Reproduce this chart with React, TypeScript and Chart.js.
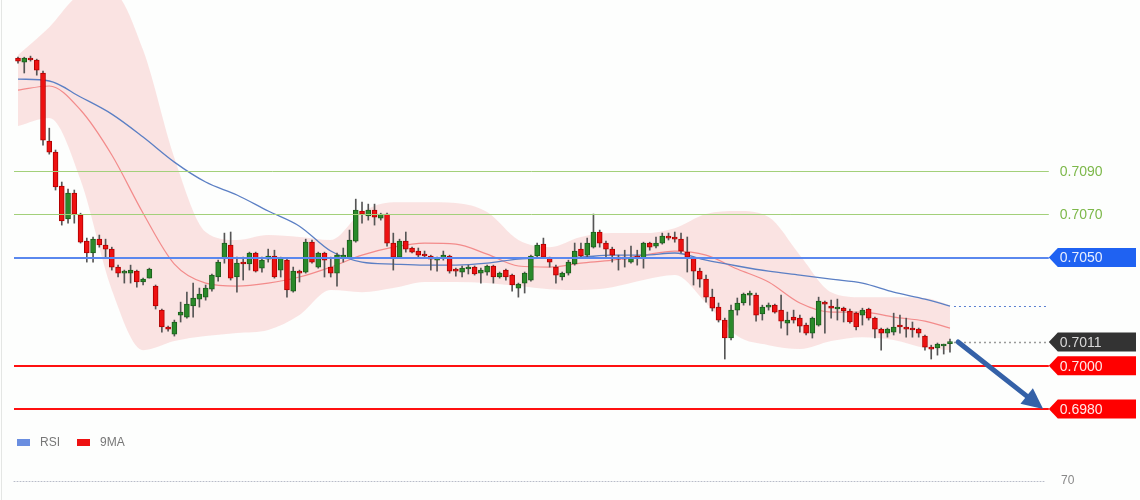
import React, { useEffect, useRef } from "react";
import { Chart, registerables } from "chart.js";

Chart.register(...registerables);

// ---- Candles (index = candle number) ----
const candleOpen = [
  0.71422, 0.71403, 0.71422, 0.71413, 0.71353, 0.71038, 0.70987, 0.7083, 0.70678, 0.70798,
  0.70696, 0.70576, 0.70521, 0.70585, 0.70558, 0.70539, 0.70456, 0.70428, 0.70428, 0.70437,
  0.70387, 0.70405, 0.70368, 0.70257, 0.70179, 0.70146, 0.70234, 0.70225, 0.70276, 0.70308,
  0.70317, 0.70354, 0.7041, 0.70497, 0.70558, 0.7041, 0.70479, 0.7047, 0.70521, 0.70451,
  0.70493, 0.70507, 0.70442, 0.70488, 0.70345, 0.70437, 0.70433, 0.70571, 0.70456, 0.70521,
  0.70456, 0.70428, 0.70497, 0.70497, 0.70576, 0.70715, 0.70692, 0.70719, 0.70682, 0.70701,
  0.70567, 0.70502, 0.70576, 0.70544, 0.7053, 0.70511, 0.70507, 0.70488, 0.70497, 0.70507,
  0.70442, 0.70433, 0.70447, 0.70456, 0.70428, 0.70433, 0.70461, 0.7041, 0.70442, 0.70419,
  0.70359, 0.70382, 0.70396, 0.70507, 0.70562, 0.70497, 0.70456, 0.7041, 0.70428, 0.7047,
  0.70539, 0.70511, 0.70548, 0.70618, 0.70567, 0.70539, 0.70502, 0.70502, 0.70479, 0.70507,
  0.70497, 0.70567, 0.70553, 0.70567, 0.70599, 0.70595, 0.70585, 0.70525, 0.70497, 0.70437,
  0.704, 0.70317, 0.70271, 0.70211, 0.70128, 0.70257, 0.7029, 0.70326, 0.70326, 0.70239,
  0.70271, 0.7028, 0.70257, 0.70197, 0.70225, 0.7022, 0.70188, 0.70151, 0.70188, 0.70294,
  0.70276, 0.70262, 0.70266, 0.70253, 0.70243, 0.70234, 0.70262, 0.7022, 0.70169, 0.70151,
  0.70155, 0.70188, 0.70179, 0.70174, 0.70169, 0.70137, 0.70086, 0.70082, 0.70091, 0.70102,
];
const candleClose = [
  0.71408, 0.71422, 0.71413, 0.71366, 0.71043, 0.70987, 0.70826, 0.70669, 0.70798, 0.70701,
  0.70571, 0.70521, 0.70585, 0.70558, 0.70539, 0.70456, 0.70428, 0.70433, 0.70442, 0.70387,
  0.704, 0.70447, 0.70276, 0.70179, 0.70169, 0.70202, 0.70248, 0.70285, 0.70313, 0.70331,
  0.70359, 0.70419, 0.70479, 0.70567, 0.70405, 0.70474, 0.7047, 0.70521, 0.70437, 0.70488,
  0.70507, 0.7041, 0.70497, 0.7035, 0.70437, 0.70428, 0.70571, 0.70479, 0.70521, 0.70488,
  0.70428, 0.70511, 0.70511, 0.70581, 0.70719, 0.70701, 0.70719, 0.70687, 0.70701, 0.70567,
  0.70502, 0.70576, 0.70539, 0.70525, 0.70511, 0.70507, 0.70493, 0.70493, 0.70511, 0.70437,
  0.70437, 0.70451, 0.70456, 0.70424, 0.70442, 0.70461, 0.7041, 0.70428, 0.7041, 0.70373,
  0.70377, 0.70428, 0.70507, 0.70558, 0.70502, 0.70479, 0.70419, 0.70428, 0.70479, 0.7053,
  0.70507, 0.70567, 0.70618, 0.70567, 0.70539, 0.70511, 0.70493, 0.70493, 0.70497, 0.70497,
  0.70567, 0.70548, 0.70567, 0.70599, 0.7059, 0.70585, 0.7053, 0.70502, 0.70437, 0.704,
  0.70317, 0.70266, 0.70211, 0.70128, 0.70257, 0.7029, 0.70331, 0.70336, 0.70234, 0.70271,
  0.7028, 0.70248, 0.70206, 0.70211, 0.70211, 0.70183, 0.70151, 0.7022, 0.70299, 0.70285,
  0.70266, 0.70271, 0.70253, 0.70202, 0.70179, 0.70257, 0.7022, 0.70169, 0.70151, 0.70169,
  0.70179, 0.70179, 0.70169, 0.70165, 0.70151, 0.70086, 0.70077, 0.701, 0.70095, 0.7011,
];
const candleHigh = [
  0.71426, 0.71426, 0.71431, 0.71417, 0.71362, 0.71098, 0.70997, 0.70849, 0.70816, 0.70812,
  0.70705, 0.7059, 0.70595, 0.70604, 0.70585, 0.70548, 0.70465, 0.70442, 0.70465, 0.70442,
  0.70405, 0.70451, 0.70373, 0.70262, 0.70183, 0.70211, 0.70294, 0.7034, 0.70382, 0.70359,
  0.70373, 0.70424, 0.70488, 0.70613, 0.70618, 0.70502, 0.70502, 0.70525, 0.70525, 0.70502,
  0.70539, 0.70534, 0.70502, 0.70497, 0.70456, 0.70442, 0.70585, 0.70581, 0.70525, 0.70525,
  0.70502, 0.70521, 0.70544, 0.70627, 0.7077, 0.70756, 0.70747, 0.70747, 0.70705, 0.70705,
  0.70613, 0.70585, 0.70618, 0.70548, 0.70544, 0.7053, 0.70511, 0.70502, 0.7053, 0.70511,
  0.70451, 0.70461, 0.70465, 0.70461, 0.70451, 0.70465, 0.70465, 0.70433, 0.70447, 0.70424,
  0.70382, 0.70433, 0.70511, 0.70567, 0.7059, 0.70502, 0.70465, 0.70433, 0.70488, 0.70567,
  0.70567, 0.7059, 0.70701, 0.70627, 0.70576, 0.70548, 0.70511, 0.70534, 0.70553, 0.70534,
  0.70571, 0.70571, 0.70595, 0.70613, 0.70613, 0.70618, 0.70613, 0.70595, 0.70502, 0.70451,
  0.70419, 0.70354, 0.7029, 0.7022, 0.7028, 0.70313, 0.70336, 0.70345, 0.70336, 0.7028,
  0.7029, 0.70285, 0.70326, 0.70248, 0.70257, 0.70234, 0.70197, 0.70225, 0.70317, 0.70299,
  0.70303, 0.70308, 0.70271, 0.70262, 0.70248, 0.70266, 0.70266, 0.70225, 0.70174, 0.70174,
  0.70243, 0.70234, 0.7022, 0.70202, 0.70174, 0.70142, 0.70095, 0.70105, 0.701, 0.70123,
];
const candleLow = [
  0.71399, 0.71353, 0.71408, 0.71343, 0.7102, 0.70978, 0.70812, 0.7065, 0.70659, 0.70659,
  0.70567, 0.70479, 0.70479, 0.70548, 0.70502, 0.70442, 0.7041, 0.70382, 0.70382, 0.70363,
  0.70373, 0.70405, 0.70262, 0.70155, 0.7016, 0.70137, 0.70202, 0.7022, 0.70225, 0.70271,
  0.70303, 0.70345, 0.70391, 0.70474, 0.70396, 0.7034, 0.70396, 0.70442, 0.70433, 0.70433,
  0.70479, 0.70405, 0.7041, 0.70317, 0.7034, 0.70387, 0.70428, 0.70474, 0.70451, 0.7041,
  0.7041, 0.70368, 0.70479, 0.70497, 0.70571, 0.70659, 0.70673, 0.7065, 0.70673, 0.70553,
  0.70442, 0.70497, 0.70525, 0.70521, 0.70502, 0.70502, 0.70442, 0.70437, 0.70488, 0.70428,
  0.70414, 0.7041, 0.70424, 0.70419, 0.70382, 0.70419, 0.70382, 0.70405, 0.70396, 0.70345,
  0.70317, 0.70336, 0.70391, 0.70502, 0.70497, 0.70456, 0.70382, 0.70396, 0.70419, 0.70465,
  0.70497, 0.70502, 0.70544, 0.70548, 0.70497, 0.70479, 0.70442, 0.70456, 0.70474, 0.70465,
  0.70451, 0.70534, 0.70544, 0.70562, 0.70581, 0.70571, 0.70521, 0.70433, 0.70373, 0.70363,
  0.70294, 0.70253, 0.70202, 0.70031, 0.70119, 0.70234, 0.7028, 0.7028, 0.70206, 0.70211,
  0.70257, 0.70243, 0.70174, 0.70142, 0.70197, 0.70155, 0.70142, 0.70128, 0.70183, 0.70151,
  0.7022, 0.70211, 0.70202, 0.70197, 0.70165, 0.70188, 0.70211, 0.70128, 0.70072, 0.70132,
  0.70142, 0.70151, 0.70132, 0.70132, 0.70132, 0.70072, 0.70031, 0.70049, 0.70054, 0.70063,
];

// ---- Indicators, read at these candle indices ----
const indicatorIndex = [
  0, 5, 10, 15, 20, 25, 30, 35, 40, 45, 50, 55, 60, 65, 70, 75,
  80, 85, 90, 95, 100, 105, 110, 115, 120, 125, 130, 135, 140, 145, 149,
];
const bandUpper = [
  0.71436, 0.71565, 0.71713, 0.71727, 0.71459, 0.7096, 0.70618, 0.70581, 0.70604, 0.70595, 0.70581,
  0.7071, 0.70756, 0.70756, 0.70752, 0.7071, 0.70581, 0.70548, 0.70595, 0.70613, 0.70613,
  0.70636, 0.70701, 0.70715, 0.70687, 0.70511, 0.7034, 0.70317, 0.70317, 0.70313, 0.7028,
];
const bandLower = [
  0.71108, 0.71145, 0.70858, 0.7035, 0.70072, 0.70114, 0.70137, 0.70151, 0.70165, 0.70234, 0.7035,
  0.7034, 0.70359, 0.70387, 0.70387, 0.70382, 0.70368, 0.70354, 0.7035, 0.70363, 0.70396,
  0.70419, 0.7029, 0.70137, 0.70095, 0.70077, 0.70114, 0.70132, 0.70119, 0.70082, 0.70072,
];
const ma9 = [
  0.71274, 0.71293, 0.71182, 0.70974, 0.70705, 0.7047, 0.70382, 0.70368, 0.70382, 0.7041, 0.70456,
  0.70511, 0.70548, 0.70567, 0.70562, 0.70516, 0.70461, 0.70456, 0.70474, 0.70488, 0.70511,
  0.7053, 0.70511, 0.70447, 0.70387, 0.7029, 0.70248, 0.70248, 0.70225, 0.70206, 0.70174,
];
const rsiLine = [
  0.71325, 0.71316, 0.71242, 0.71163, 0.71057, 0.70941, 0.70849, 0.70789, 0.70715, 0.70645, 0.7053,
  0.70479, 0.7047, 0.70465, 0.70465, 0.70474, 0.70493, 0.70497, 0.70502, 0.70511, 0.70511,
  0.70521, 0.70488, 0.70461, 0.70437, 0.70419, 0.704, 0.70382, 0.7034, 0.70308, 0.70276,
];

// ---- Levels and annotations ----
const greenLevels = [0.709, 0.707];
const blueLevel = 0.705;
const redLevels = [0.7, 0.698];
const lastPrice = 0.7011;
const arrowStart = { index: 150.3, price: 0.7011 };
const arrowEnd = { index: 163.9, price: 0.698 };
const levelEndIndex = 164.8;
const rsiTickLabel = "70";
const legendItems = [
  { label: "RSI", color: "#6a8ee0" },
  { label: "9MA", color: "#ee1111" },
];

const FONT = "'Liberation Sans', Arial, sans-serif";

function tag(ctx: CanvasRenderingContext2D, x: number, y: number, w: number, h: number, fill: string, text: string, textColor: string) {
  ctx.save();
  ctx.fillStyle = fill;
  ctx.beginPath();
  ctx.moveTo(x, y);
  ctx.lineTo(x + 9, y - h / 2);
  ctx.lineTo(x + w, y - h / 2);
  ctx.lineTo(x + w, y + h / 2);
  ctx.lineTo(x + 9, y + h / 2);
  ctx.closePath();
  ctx.fill();
  ctx.fillStyle = textColor;
  ctx.font = `14px ${FONT}`;
  ctx.textBaseline = "middle";
  ctx.textAlign = "left";
  ctx.fillText(text, x + 11, y + 1);
  ctx.restore();
}

const overlayPlugin = {
  id: "overlay",
  beforeDraw(chart: any) {
    const ctx = chart.ctx as CanvasRenderingContext2D;
    ctx.save();
    ctx.fillStyle = "#fdfefd";
    ctx.fillRect(0, 0, chart.width, chart.height);
    ctx.strokeStyle = "#e4e6e4";
    ctx.lineWidth = 1;
    ctx.beginPath();
    ctx.moveTo(1.5, 0);
    ctx.lineTo(1.5, chart.height);
    ctx.stroke();
    ctx.restore();
  },
  afterDatasetsDraw(chart: any) {
    const ctx = chart.ctx as CanvasRenderingContext2D;
    const xs = chart.scales.x;
    const ys = chart.scales.y;
    const x0 = 14;
    const x1 = xs.getPixelForValue(levelEndIndex);
    const lastX = xs.getPixelForValue(candleClose.length - 1) + 4;
    ctx.save();

    // green levels
    ctx.strokeStyle = "#a3d07a";
    ctx.lineWidth = 1;
    greenLevels.forEach((lv) => {
      const y = Math.round(ys.getPixelForValue(lv)) + 0.5;
      ctx.beginPath();
      ctx.moveTo(x0, y);
      ctx.lineTo(x1, y);
      ctx.stroke();
    });

    // blue level
    {
      const y = Math.round(ys.getPixelForValue(blueLevel));
      ctx.strokeStyle = "#5a88ee";
      ctx.lineWidth = 2;
      ctx.beginPath();
      ctx.moveTo(x0, y);
      ctx.lineTo(x1, y);
      ctx.stroke();
    }

    // red levels
    ctx.strokeStyle = "#ff1010";
    ctx.lineWidth = 2;
    redLevels.forEach((lv) => {
      const y = Math.round(ys.getPixelForValue(lv));
      ctx.beginPath();
      ctx.moveTo(x0, y);
      ctx.lineTo(x1, y);
      ctx.stroke();
    });

    // dotted extension of the blue line's last value
    {
      const y = Math.round(ys.getPixelForValue(rsiLine[rsiLine.length - 1])) + 0.5;
      ctx.strokeStyle = "#5a7fd0";
      ctx.lineWidth = 1;
      ctx.setLineDash([2, 3]);
      ctx.beginPath();
      ctx.moveTo(lastX, y);
      ctx.lineTo(x1, y);
      ctx.stroke();
    }
    // dotted last price
    {
      const y = Math.round(ys.getPixelForValue(lastPrice)) + 0.5;
      ctx.strokeStyle = "#9a9a9a";
      ctx.lineWidth = 1.5;
      ctx.setLineDash([2, 3]);
      ctx.beginPath();
      ctx.moveTo(lastX, y);
      ctx.lineTo(x1, y);
      ctx.stroke();
    }
    ctx.setLineDash([]);

    // arrow
    {
      const ax = xs.getPixelForValue(arrowStart.index);
      const ay = ys.getPixelForValue(arrowStart.price);
      const bx = xs.getPixelForValue(arrowEnd.index);
      const by = ys.getPixelForValue(arrowEnd.price);
      const ang = Math.atan2(by - ay, bx - ax);
      const headLen = 21;
      const headHalf = 10;
      const ex = bx - Math.cos(ang) * (headLen - 3);
      const ey = by - Math.sin(ang) * (headLen - 3);
      ctx.strokeStyle = "#3461a8";
      ctx.fillStyle = "#3461a8";
      ctx.lineWidth = 5;
      ctx.lineCap = "round";
      ctx.beginPath();
      ctx.moveTo(ax, ay);
      ctx.lineTo(ex, ey);
      ctx.stroke();
      const hx = bx - Math.cos(ang) * headLen;
      const hy = by - Math.sin(ang) * headLen;
      ctx.beginPath();
      ctx.moveTo(bx, by);
      ctx.lineTo(hx + Math.sin(ang) * headHalf, hy - Math.cos(ang) * headHalf);
      ctx.lineTo(hx - Math.sin(ang) * headHalf, hy + Math.cos(ang) * headHalf);
      ctx.closePath();
      ctx.fill();
    }

    // labels
    const labelX = x1;
    const w = 1136 - labelX;
    ctx.font = `14px ${FONT}`;
    ctx.textBaseline = "middle";
    ctx.fillStyle = "#7db84a";
    greenLevels.forEach((lv) => {
      ctx.fillText(lv.toFixed(4), labelX + 11, ys.getPixelForValue(lv) + 1);
    });
    tag(ctx, labelX, ys.getPixelForValue(blueLevel), w, 19, "#1f62f2", blueLevel.toFixed(4), "#e8eeff");
    tag(ctx, labelX, ys.getPixelForValue(lastPrice), w, 19, "#333333", lastPrice.toFixed(4), "#d8d8d8");
    redLevels.forEach((lv) => {
      tag(ctx, labelX, ys.getPixelForValue(lv), w, 19, "#ff0000", lv.toFixed(4), "#ffe8e8");
    });

    // lower panel: legend, dotted 70 line
    ctx.font = `12px ${FONT}`;
    let lx = 17;
    legendItems.forEach((it) => {
      ctx.fillStyle = it.color;
      ctx.fillRect(lx, 439, 13, 7);
      ctx.fillStyle = "#777777";
      ctx.fillText(it.label, lx + 23, 443);
      lx += 60;
    });
    ctx.strokeStyle = "#b8bcc8";
    ctx.lineWidth = 1;
    ctx.setLineDash([1, 2]);
    ctx.beginPath();
    ctx.moveTo(x0, 481.5);
    ctx.lineTo(1046, 481.5);
    ctx.stroke();
    ctx.setLineDash([]);
    ctx.fillStyle = "#888888";
    ctx.fillText(rsiTickLabel, 1061, 481);
    ctx.restore();
  },
};

export default function App() {
  const ref = useRef<HTMLCanvasElement | null>(null);
  useEffect(() => {
    if (!ref.current) return;
    const n = candleClose.length;
    const up = "#2a8a2a";
    const down = "#ee1111";
    const bodyColors = candleClose.map((c, i) => (c >= candleOpen[i] ? up : down));
    const bodyBorders = candleClose.map((c, i) => (c >= candleOpen[i] ? "#1c5e1c" : "#b00000"));
    const pts = (arr: number[]) => indicatorIndex.map((k, i) => ({ x: k, y: arr[i] }));
    const chart = new Chart(ref.current, {
      type: "bar",
      data: {
        datasets: [
          {
            type: "line",
            data: pts(bandUpper),
            borderColor: "transparent",
            borderWidth: 0,
            pointRadius: 0,
            fill: "+1",
            backgroundColor: "rgba(246,165,165,0.3)",
            cubicInterpolationMode: "monotone",
            order: 10,
          },
          {
            type: "line",
            data: pts(bandLower),
            borderColor: "transparent",
            borderWidth: 0,
            pointRadius: 0,
            fill: false,
            cubicInterpolationMode: "monotone",
            order: 9,
          },
          {
            type: "line",
            data: pts(ma9),
            borderColor: "rgba(240,110,110,0.75)",
            borderWidth: 1.2,
            pointRadius: 0,
            fill: false,
            cubicInterpolationMode: "monotone",
            order: 6,
          },
          {
            type: "line",
            data: pts(rsiLine),
            borderColor: "#5b7fc4",
            borderWidth: 1.3,
            pointRadius: 0,
            fill: false,
            cubicInterpolationMode: "monotone",
            order: 5,
          },
          {
            type: "bar",
            data: candleLow.map((l, i) => ({ x: i, y: [l, candleHigh[i]] })),
            backgroundColor: "#555555",
            barThickness: 1,
            grouped: false,
            order: 2,
          },
          {
            type: "bar",
            data: candleOpen.map((o, i) => ({ x: i, y: [o, candleClose[i]] })),
            backgroundColor: bodyColors,
            borderColor: bodyBorders,
            borderWidth: 1,
            borderSkipped: false,
            barThickness: 5,
            minBarLength: 2,
            grouped: false,
            order: 1,
          },
        ] as any,
      },
      options: {
        animation: false,
        responsive: false,
        maintainAspectRatio: false,
        layout: { padding: 0 },
        plugins: { legend: { display: false }, tooltip: { enabled: false } },
        scales: {
          x: { type: "linear", display: false, offset: false, min: -2.878, max: 179.38 },
          y: { type: "linear", display: false, min: 0.693794, max: 0.716904 },
        },
      } as any,
      plugins: [overlayPlugin],
    });
    void n;
    return () => chart.destroy();
  }, []);
  return (
    <div style={{ position: "absolute", left: 0, top: 0, width: 1140, height: 500 }}>
      <canvas ref={ref} width={1140} height={500} style={{ display: "block" }} />
    </div>
  );
}
